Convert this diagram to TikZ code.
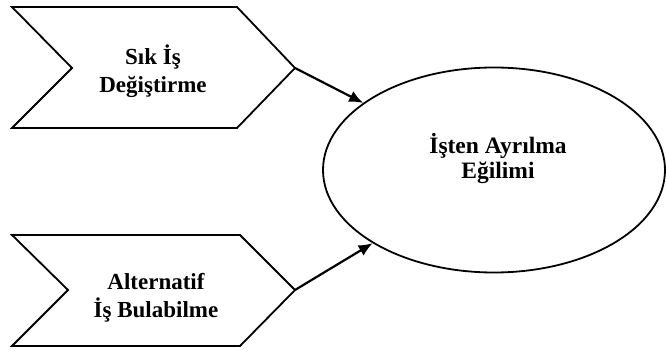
\documentclass[tikz,border=0pt]{standalone}
\usepackage{fontspec}
\setmainfont{Liberation Serif}
\usetikzlibrary{shapes.geometric,arrows.meta}
\tikzset{
  chev/.style={draw=black,line width=1.8pt,line join=miter},
  lbl/.style={font=\bfseries\fontsize{23}{28}\selectfont,align=center,inner sep=0pt},
  elbl/.style={font=\bfseries\fontsize{23.5}{25}\selectfont,align=center,inner sep=0pt},
  conn/.style={line width=2.2pt,-{Latex[length=14pt,width=12pt]}},
}
\begin{document}
\begin{tikzpicture}[x=1pt,y=-1pt]
\useasboundingbox (0,0) rectangle (666,350);
% top chevron
\coordinate (t1) at (295,68);
\draw[chev] (12,7) -- (237,7) -- (t1) -- (237,128) -- (12,128) -- (72,68) -- cycle;
\node[lbl] (a) at (153,71) {Sık İş\\Değiştirme};
% bottom chevron
\coordinate (t2) at (295,290);
\draw[chev] (12,235) -- (240,235) -- (t2) -- (240,346) -- (12,346) -- (68,290) -- cycle;
\node[lbl] (b) at (156,298) {Alternatif\\İş Bulabilme};
% ellipse
\node[ellipse,draw,line width=1.8pt,minimum width=342pt,minimum height=205pt,inner sep=0pt] (e) at (494,170) {};
\node[elbl] (et) at (498,159) {İşten Ayrılma\\Eğilimi};
\draw[conn] (t1) -- (e);
\draw[conn] (t2) -- (e);
\end{tikzpicture}
\end{document}
